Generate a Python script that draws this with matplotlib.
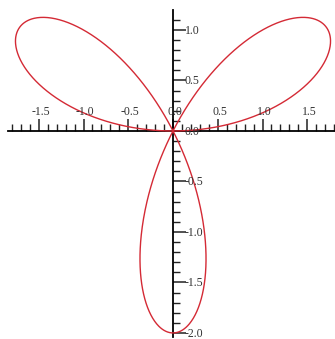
import numpy as np
import matplotlib.pyplot as plt
from matplotlib.ticker import FixedLocator, NullFormatter

# rose curve r = a*sin(k*theta)
rose_amplitude = 2.0
rose_petals = 3

x_labels = ['-1.5', '-1.0', '-0.5', '0.0', '0.5', '1.0', '1.5']
x_label_pos = [-1.5, -1.0, -0.5, 0.0, 0.5, 1.0, 1.5]
y_labels = ['1.0', '0.5', '0.0', '-0.5', '-1.0', '-1.5', '-2.0']
y_label_pos = [1.0, 0.5, 0.0, -0.5, -1.0, -1.5, -2.0]

theta = np.linspace(0, np.pi, 1200)
r = rose_amplitude * np.sin(rose_petals * theta)
x = r * np.cos(theta)
y = r * np.sin(theta)

fig = plt.figure(figsize=(3.35, 3.39), dpi=100)
ax = fig.add_axes([0, 0, 1, 1])
ax.set_xlim(-1.933, 1.810)
ax.set_ylim(-2.06, 1.297)

ax.plot(x, y, color='#d42a35', lw=1.0, zorder=3)

# axes through the origin, ticks on the inner side
for side in ['top', 'right']:
    ax.spines[side].set_visible(False)
ax.spines['bottom'].set_position(('data', 0))
ax.spines['left'].set_position(('data', 0))
ax.spines['bottom'].set_bounds(-1.84, 1.81)
ax.spines['left'].set_bounds(-2.04, 1.2)
for side in ['bottom', 'left']:
    ax.spines[side].set_linewidth(1.3)

ax.xaxis.set_major_locator(FixedLocator(np.arange(-1.5, 1.6, 0.5)))
ax.xaxis.set_minor_locator(FixedLocator(np.arange(-1.8, 1.85, 0.1)))
ax.yaxis.set_major_locator(FixedLocator(np.arange(-2.0, 1.1, 0.5)))
ax.yaxis.set_minor_locator(FixedLocator(np.arange(-2.0, 1.15, 0.1)))
ax.xaxis.set_major_formatter(NullFormatter())
ax.yaxis.set_major_formatter(NullFormatter())
ax.tick_params(which='major', direction='in', length=9, width=1.1, color='#222222')
ax.tick_params(which='minor', direction='in', length=5, width=1.0, color='#222222')

lbl = dict(fontsize=8.5, family='Liberation Serif', color='#333333')
for p, t in zip(x_label_pos, x_labels):
    ax.text(p + 0.02, 0.13, t, ha='center', va='bottom', **lbl)
for p, t in zip(y_label_pos, y_labels):
    ax.text(0.13, p - 0.01, t, ha='left', va='center', **lbl)

fig.savefig('out.png', dpi=100)
